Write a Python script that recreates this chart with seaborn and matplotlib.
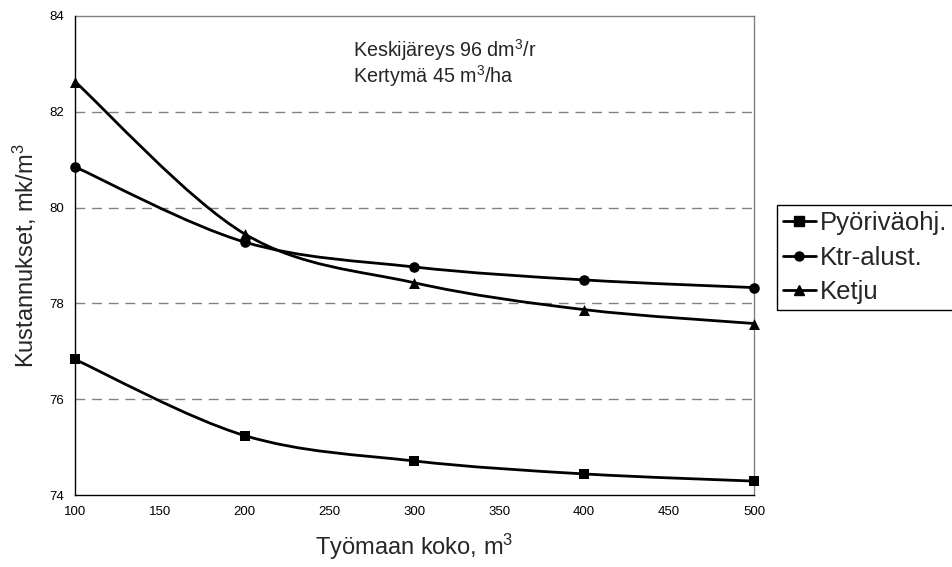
import numpy as np
import pandas as pd
import matplotlib
matplotlib.use("Agg")
import matplotlib.pyplot as plt
from matplotlib.path import Path
from matplotlib.patches import PathPatch
from matplotlib.lines import Line2D
import seaborn as sns

# ---- data ----
x_values = [100, 200, 300, 400, 500]
series_names = ["Pyöriväohj.", "Ktr-alust.", "Ketju"]
pyoriva = [76.83, 75.24, 74.71, 74.44, 74.29]
ktr_alust = [80.85, 79.28, 78.76, 78.49, 78.33]
ketju = [82.63, 79.45, 78.43, 77.87, 77.58]
x_ticks = [100, 150, 200, 250, 300, 350, 400, 450, 500]
y_ticks = [74, 76, 78, 80, 82, 84]
grid_levels = [76, 78, 80, 82]
annotation_lines = ["Keskijäreys 96 dm$^3$/r", "Kertymä 45 m$^3$/ha"]

df = pd.DataFrame({
    "x": x_values * 3,
    "y": pyoriva + ktr_alust + ketju,
    "series": sum([[n] * len(x_values) for n in series_names], []),
})

sns.set_theme(style="white")
plt.rcParams["font.family"] = ["Liberation Sans", "DejaVu Sans"]
plt.rcParams["mathtext.fontset"] = "custom"
plt.rcParams["mathtext.rm"] = "Liberation Sans"
plt.rcParams["mathtext.it"] = "Liberation Sans:italic"
plt.rcParams["mathtext.bf"] = "Liberation Sans:bold"

fig = plt.figure(figsize=(9.53, 5.67), dpi=100)
ax = fig.add_axes([75 / 953, 1 - 495 / 567, (754 - 75) / 953, (495 - 16) / 567])

markers = {"Pyöriväohj.": "s", "Ktr-alust.": "o", "Ketju": "^"}
msizes = {"Pyöriväohj.": 52, "Ktr-alust.": 58, "Ketju": 62}


def smooth_path(xs, ys):
    pts = np.column_stack([xs, ys]).astype(float)
    n = len(pts)
    verts = [pts[0]]
    codes = [Path.MOVETO]
    for i in range(n - 1):
        p0 = pts[i - 1] if i > 0 else pts[i]
        p1 = pts[i]
        p2 = pts[i + 1]
        p3 = pts[i + 2] if i + 2 < n else pts[i + 1]
        c1 = p1 + (p2 - p0) / 6.0
        c2 = p2 - (p3 - p1) / 6.0
        verts += [c1, c2, p2]
        codes += [Path.CURVE4] * 3
    return Path(verts, codes)


for lvl in grid_levels:
    ax.axhline(lvl, color="#808080", lw=1.0, ls=(0, (7, 5)), zorder=1)

handles = []
for name in series_names:
    sub = df[df["series"] == name]
    patch = PathPatch(smooth_path(sub["x"].values, sub["y"].values),
                      fill=False, edgecolor="black", lw=2.0, zorder=3,
                      capstyle="round", joinstyle="round")
    ax.add_patch(patch)
    sns.scatterplot(data=sub, x="x", y="y", marker=markers[name], s=msizes[name],
                    color="black", edgecolor="black", linewidth=0, ax=ax,
                    legend=False, zorder=4, clip_on=False)
    handles.append(Line2D([], [], color="black", lw=2.0, marker=markers[name],
                          markersize=6.5 if name != "Ketju" else 7, label=name))

for coll in ax.collections:
    coll.set_clip_on(False)

ax.set_xlim(100, 500)
ax.set_ylim(74, 84)
ax.set_xticks(x_ticks)
ax.set_yticks(y_ticks)
ax.tick_params(axis="both", direction="out", length=3.6, width=1, pad=4,
               labelsize=9.5, colors="black")
ax.tick_params(axis="x", color="#808080")

for side in ["left", "bottom"]:
    ax.spines[side].set_color("black")
    ax.spines[side].set_linewidth(1.0)
for side in ["top", "right"]:
    ax.spines[side].set_color("#808080")
    ax.spines[side].set_linewidth(1.0)
ax.spines["bottom"].set_zorder(5)
ax.spines["left"].set_zorder(5)

ax.set_xlabel("Työmaan koko, m$^3$", fontsize=17, labelpad=10)
ax.set_ylabel("Kustannukset, mk/m$^3$", fontsize=17, labelpad=8)

ax.text(0.409, 0.914, annotation_lines[0], transform=ax.transAxes,
        fontsize=14.2, va="baseline", ha="left")
ax.text(0.409, 0.860, annotation_lines[1], transform=ax.transAxes,
        fontsize=14.2, va="baseline", ha="left")

leg = fig.legend(handles=handles, loc="upper left",
                 bbox_to_anchor=(777 / 953, 1 - 205 / 567),
                 fontsize=18.5, frameon=True, fancybox=False, shadow=False,
                 edgecolor="black", framealpha=1, borderpad=0.25,
                 labelspacing=0.4, handlelength=1.25, handletextpad=0.15,
                 borderaxespad=0)
leg.get_frame().set_linewidth(1.0)

fig.savefig("out.png", dpi=100)
